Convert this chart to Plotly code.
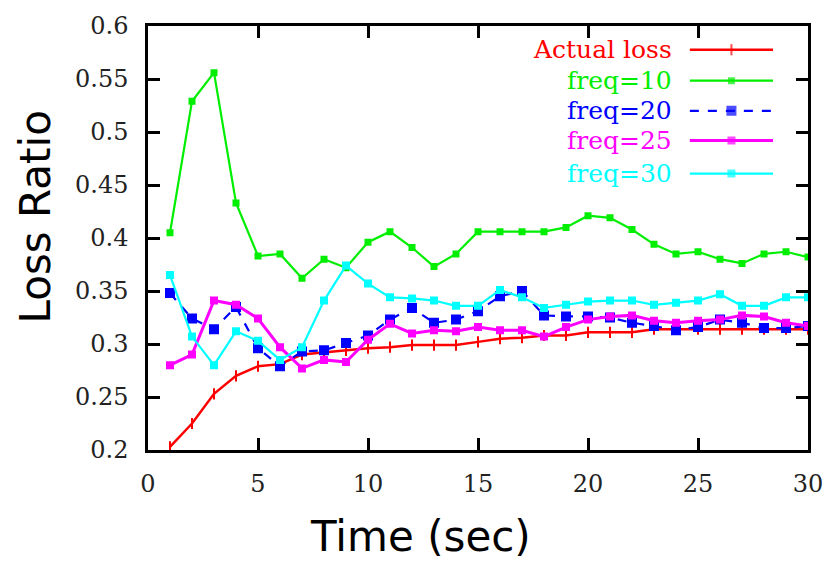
import plotly.graph_objects as go

# Time axis (seconds) shared by every series
time_sec = list(range(1, 31))

actual_loss = [0.203, 0.225, 0.253, 0.270, 0.279, 0.281, 0.290, 0.292, 0.294, 0.296,
               0.297, 0.299, 0.299, 0.299, 0.302, 0.305, 0.306, 0.308, 0.308, 0.311,
               0.311, 0.311, 0.314, 0.314, 0.314, 0.314, 0.314, 0.314, 0.314, 0.314]
freq10 = [0.405, 0.529, 0.556, 0.433, 0.383, 0.385, 0.362, 0.380, 0.372, 0.396,
          0.406, 0.391, 0.373, 0.385, 0.406, 0.406, 0.406, 0.406, 0.410, 0.421,
          0.419, 0.408, 0.394, 0.385, 0.387, 0.380, 0.376, 0.385, 0.387, 0.382]
freq20 = [0.348, 0.324, 0.314, 0.335, 0.296, 0.279, 0.293, 0.294, 0.301, 0.308,
          0.323, 0.334, 0.320, 0.323, 0.331, 0.345, 0.350, 0.327, 0.326, 0.326,
          0.325, 0.320, 0.317, 0.313, 0.316, 0.323, 0.320, 0.315, 0.315, 0.317]
freq25 = [0.280, 0.290, 0.341, 0.337, 0.324, 0.297, 0.277, 0.285, 0.283, 0.304,
          0.319, 0.310, 0.313, 0.312, 0.316, 0.313, 0.313, 0.307, 0.316, 0.323,
          0.326, 0.327, 0.322, 0.320, 0.322, 0.323, 0.327, 0.326, 0.320, 0.317]
freq30 = [0.365, 0.307, 0.280, 0.312, 0.303, 0.285, 0.297, 0.341, 0.374, 0.357,
          0.344, 0.343, 0.341, 0.336, 0.336, 0.351, 0.344, 0.334, 0.337, 0.340,
          0.341, 0.341, 0.337, 0.339, 0.341, 0.347, 0.336, 0.336, 0.344, 0.344]

series_names = ["Actual loss", "freq=10", "freq=20", "freq=25", "freq=30"]
series_values = [actual_loss, freq10, freq20, freq25, freq30]
series_colors = ["#ff0000", "#00ee00", "#0000ff", "#ff00ff", "#00ffff"]
series_dash = ["solid", "solid", "dash", "solid", "solid"]
series_width = [2.5, 2.2, 2.2, 3, 2.2]
series_symbol = ["line-ns", "square", "square", "square", "square"]
series_msize = [8, 5, 8, 6, 6]

x_ticks = [0, 5, 10, 15, 20, 25, 30]
y_ticks = [0.2, 0.25, 0.3, 0.35, 0.4, 0.45, 0.5, 0.55, 0.6]
y_tick_text = ["0.2", "0.25", "0.3", "0.35", "0.4", "0.45", "0.5", "0.55", "0.6"]

fig = go.Figure()

for name, vals, col, dash, w, sym, ms in zip(series_names, series_values, series_colors,
                                             series_dash, series_width, series_symbol, series_msize):
    fig.add_trace(go.Scatter(
        x=time_sec, y=vals, name=name, mode="lines+markers",
        line=dict(color=col, width=w, dash=dash),
        marker=dict(symbol=sym, size=ms, color=col, line=dict(color=col, width=2)),
        showlegend=False, xaxis="x", yaxis="y",
    ))

# Key: right-aligned labels with a line sample to their right
key_x0, key_x1 = 0.821, 0.947
key_y = [0.944, 0.871, 0.800, 0.730, 0.652]
for name, col, dash, w, sym, ms, ky in zip(series_names, series_colors, series_dash,
                                           series_width, series_symbol, series_msize, key_y):
    fig.add_trace(go.Scatter(
        x=[key_x0, (key_x0 + key_x1) / 2, key_x1], y=[ky, ky, ky],
        mode="lines+markers",
        line=dict(color=col, width=w, dash=dash),
        marker=dict(symbol=sym, size=[0, ms, 0], color=col, line=dict(color=col, width=2)),
        showlegend=False, hoverinfo="skip", xaxis="x2", yaxis="y2",
    ))
    fig.add_annotation(
        x=0.797, y=ky, xref="x2", yref="y2", text=name, showarrow=False,
        xanchor="right", yanchor="middle",
        font=dict(family="DejaVu Serif", size=25, color=col),
    )

axis_common = dict(
    showline=True, linecolor="black", linewidth=2.5, mirror="ticks",
    ticks="inside", ticklen=12, tickwidth=2.5, tickcolor="black",
    showgrid=False, zeroline=False,
    tickfont=dict(family="DejaVu Serif", size=24, color="#222222"),
)

fig.update_layout(
    width=836, height=567,
    margin=dict(l=148, r=28, t=18, b=117),
    paper_bgcolor="white", plot_bgcolor="white",
    xaxis=dict(range=[0, 30], tickvals=x_ticks, ticklabelstandoff=10, **axis_common),
    yaxis=dict(range=[0.2, 0.6], tickvals=y_ticks, ticktext=y_tick_text,
               ticklabelstandoff=12, **axis_common),
    xaxis2=dict(range=[0, 1], overlaying="x", visible=False, fixedrange=True),
    yaxis2=dict(range=[0, 1], overlaying="y", visible=False, fixedrange=True),
    showlegend=False,
)

fig.add_annotation(
    x=420, y=538, xref="paper", yref="paper", text="Time (sec)", showarrow=False,
    font=dict(family="DejaVu Sans", size=42, color="black"),
)
fig.add_annotation(
    x=35, y=213, xref="paper", yref="paper", text="Loss Ratio", showarrow=False,
    textangle=-90, font=dict(family="DejaVu Sans", size=42, color="black"),
)

# Axis titles are placed in pixel terms; convert to paper fractions
plot_w, plot_h = 836 - 148 - 28, 567 - 18 - 117
for ann in fig.layout.annotations:
    if ann.text in ("Time (sec)", "Loss Ratio"):
        ann.x = (ann.x - 148) / plot_w
        ann.y = (567 - 117 - ann.y) / plot_h
        ann.xanchor = "center"
        ann.yanchor = "middle"

fig.write_html("out.html")
